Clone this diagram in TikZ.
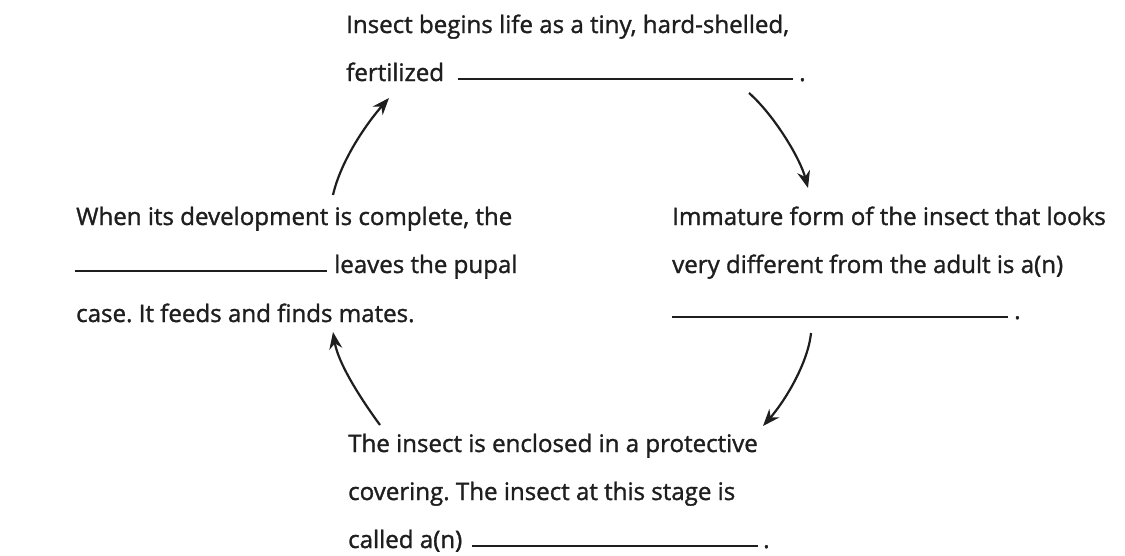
\documentclass[tikz,border=0pt]{standalone}
\usepackage{fontspec}
\setmainfont{Open Sans}[FakeBold=1.3]
\usetikzlibrary{arrows.meta}
\definecolor{ink}{HTML}{1E1E1E}
\frenchspacing
\tikzset{
  txt/.style={anchor=base west, inner sep=0pt, text=ink, font=\fontsize{24.1}{29}\selectfont},
  blank/.style={draw=ink, line width=1.5pt},
  cyc/.style={draw=ink, line width=2.2pt, -{Stealth[length=17pt,width=13pt]}}
}
\begin{document}
\begin{tikzpicture}[x=1pt,y=-1pt]
\useasboundingbox (0,0) rectangle (1125,555);
% top block
\node[txt] (t1) at (346,33) {Insect begins life as a tiny, hard-shelled,};
\node[txt] (t2) at (346,81) {fertilized};
\coordinate (tb1) at (458,79);
\coordinate (tb2) at (793,79);
\draw[blank] (tb1) -- (tb2);
\node[txt] (t3) at (799,81) {.};
% left block
\node[txt] (l1) at (76,225) {When its development is complete, the};
\coordinate (lb1) at (75,271);
\coordinate (lb2) at (327,271);
\draw[blank] (lb1) -- (lb2);
\node[txt] (l2) at (334,273) {leaves the pupal};
\node[txt] (l3) at (76,322) {case. It feeds and finds mates.};
% right block
\node[txt] (r1) at (672,225) {Immature form of the insect that looks};
\node[txt] (r2) at (672,273) {very different from the adult is a(n)};
\coordinate (rb1) at (672,317);
\coordinate (rb2) at (1008,317);
\draw[blank] (rb1) -- (rb2);
\node[txt] (r3) at (1014,319) {.};
% bottom block
\node[txt] (b1) at (348,452) {The insect is enclosed in a protective};
\node[txt] (b2) at (348,500) {covering. The insect at this stage is};
\node[txt] (b3) at (348,548) {called a(n)};
\coordinate (bb1) at (472,546);
\coordinate (bb2) at (758,546);
\draw[blank] (bb1) -- (bb2);
\node[txt] (b4) at (763,548) {.};
% arrows
\coordinate (a1s) at (333,195);
\coordinate (a1e) at (389,98);
\draw[cyc] (a1s) .. controls (341,160) and (367,123) .. (a1e);
\coordinate (a2s) at (749,93);
\coordinate (a2e) at (808,188);
\draw[cyc] (a2s) .. controls (774,115) and (800,158) .. (a2e);
\coordinate (a3s) at (811,333);
\coordinate (a3e) at (763,426);
\draw[cyc] (a3s) .. controls (808,363) and (785,401) .. (a3e);
\coordinate (a4s) at (380,425);
\coordinate (a4e) at (333,332);
\draw[cyc] (a4s) .. controls (358,395) and (338,362) .. (a4e);
\end{tikzpicture}
\end{document}
